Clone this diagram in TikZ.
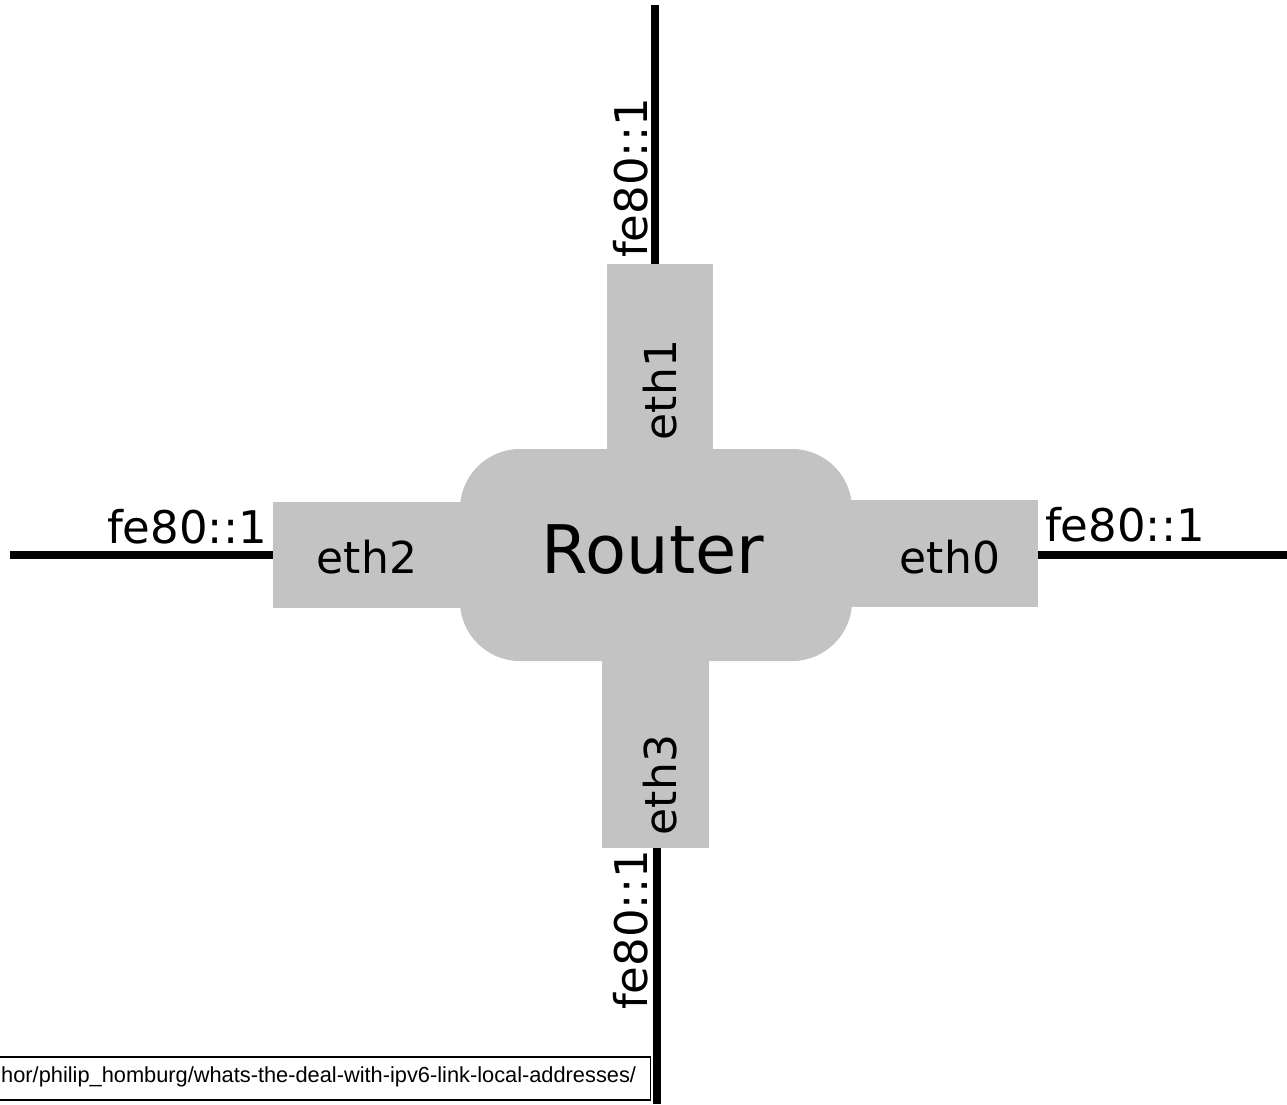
\documentclass[tikz,border=0pt]{standalone}
\usepackage{fontspec}
\setmainfont{DejaVu Sans}
\newfontfamily\arialfont{Liberation Sans}
\definecolor{portgray}{HTML}{C3C3C3}
\begin{document}
\begin{tikzpicture}[x=1pt,y=-1pt,
  portbox/.style={fill=portgray, draw=none, inner sep=0pt, outer sep=0pt},
  wire/.style={line width=8pt, black},
  portlabel/.style={inner sep=0pt, font=\fontsize{44}{44}\selectfont},
  addrlabel/.style={inner sep=0pt, font=\fontsize{45}{45}\selectfont}]
\useasboundingbox (0,0) rectangle (1287,1104);
\clip (0,0) rectangle (1287,1104);
\fill[white] (0,0) rectangle (1287,1104);
% port boxes
\node[portbox, minimum width=106pt, minimum height=186pt] (eth1) at (660,357) {};
\node[portbox, minimum width=107pt, minimum height=188pt] (eth3) at (655.5,754) {};
\node[portbox, minimum width=189pt, minimum height=106pt] (eth2) at (367.5,555) {};
\node[portbox, minimum width=187pt, minimum height=107pt] (eth0) at (944.5,553.5) {};
% router
\node[portbox, rounded corners=60pt, minimum width=392pt, minimum height=212pt] (router) at (656,555) {};
\node[inner sep=0pt, font=\fontsize{67}{67}\selectfont] (routertext) at (653,550) {Router};
% port labels
\node[portlabel] (eth2t) at (367,557) {eth2};
\node[portlabel] (eth0t) at (950,557) {eth0};
\node[portlabel, rotate=90] (eth1t) at (660,390) {eth1};
\node[portlabel, rotate=90] (eth3t) at (660,785) {eth3};
% wires
\coordinate (topend) at (655,5);
\coordinate (botend) at (657,1104);
\coordinate (leftend) at (10,555);
\coordinate (rightend) at (1287,555);
\draw[wire] (topend) -- (topend |- eth1.north);
\draw[wire] (botend) -- (botend |- eth3.south);
\draw[wire] (leftend) -- (leftend -| eth2.west);
\draw[wire] (rightend) -- (rightend -| eth0.east);
% address labels
\node[addrlabel] (a2) at (187,527) {fe80::1};
\node[addrlabel] (a0) at (1125,525) {fe80::1};
\node[addrlabel, rotate=90] (a1) at (631,178) {fe80::1};
\node[addrlabel, rotate=90] (a3) at (631,930) {fe80::1};
% source box
\node[draw=black, line width=1.5pt, anchor=north east, minimum width=670pt, minimum height=43pt, inner sep=0pt] (srcbox) at (651,1056) {};
\node[anchor=west, inner sep=0pt, font=\arialfont\fontsize{21.8}{21.8}\selectfont] (srctext) at (1,1077) {hor/philip\_homburg/whats-the-deal-with-ipv6-link-local-addresses/};
\end{tikzpicture}
\end{document}
